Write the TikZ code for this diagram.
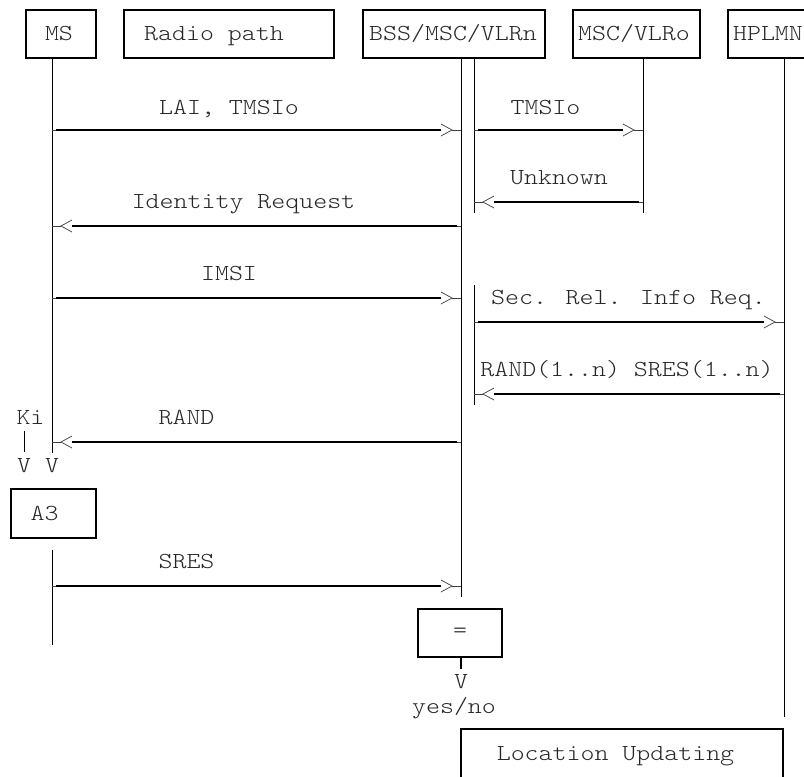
\documentclass[tikz,border=0pt]{standalone}
\usepackage{fontspec}
\newfontfamily\courf{lmmonolt10-regular.otf}[FakeStretch=1.16]
\usetikzlibrary{calc}
\tikzset{
  lbl/.style={font=\courf\fontsize{17.2pt}{20pt}\selectfont, text=black!85, inner sep=0pt, anchor=base},
  hl/.style={line width=0.98pt, black},
  vl/.style={line width=0.75pt, black},
  bx/.style={draw, line width=0.85pt, black, inner sep=0pt, outer sep=0pt},
  chev/.style={line width=0.55pt, black!75},
}
\newcommand\msgR[2]{%
  \draw[hl] ($(#1)+(4,0)$) -- ($(#2)+(-20,0)$);
  \draw[chev] ($(#2)+(-20,-6)$) -- ($(#2)+(-9,0)$) -- ($(#2)+(-20,6)$);
  \draw[chev] ($(#2)+(-9,0)$) -- (#2);
  \draw[chev] (#1) -- ($(#1)+(4,0)$);}
\newcommand\msgL[2]{%
  \draw[hl] ($(#1)+(-4,0)$) -- ($(#2)+(20,0)$);
  \draw[chev] ($(#2)+(20,-6)$) -- ($(#2)+(9,0)$) -- ($(#2)+(20,6)$);
  \draw[chev] ($(#2)+(9,0)$) -- (#2);
  \draw[chev] (#1) -- ($(#1)+(-4,0)$);}
\begin{document}
\begin{tikzpicture}[x=0.75pt,y=-0.75pt]
\useasboundingbox (0,0) rectangle (804,776);
\clip (0,0) rectangle (804,776);

% header boxes
\node[bx, minimum width=70*0.75pt, minimum height=48*0.75pt] (msbox) at (61,34) {};
\node[bx, minimum width=210*0.75pt, minimum height=48*0.75pt] (radiobox) at (229,34) {};
\node[bx, minimum width=182*0.75pt, minimum height=48*0.75pt] (bssbox) at (454,34) {};
\node[bx, minimum width=127*0.75pt, minimum height=48*0.75pt] (vlrobox) at (636.5,34) {};
\node[bx, minimum width=200*0.75pt, minimum height=48*0.75pt] (hplmnbox) at (828,34) {};
\node[lbl] (tms) at (59,40) {MS};
\node[lbl] (tradio) at (214,40) {Radio path};
\node[lbl] (tbss) at (453,40) {BSS/MSC/VLRn};
\node[lbl] (tvlro) at (634,40) {MSC/VLRo};
\node[lbl] (thplmn) at (768,40) {HPLMN};

% lifelines
\coordinate (msT) at (52,58);
\coordinate (msB) at (52,453);
\coordinate (ms2T) at (52,550);
\coordinate (ms2B) at (52,645);
\coordinate (bssT) at (461,58);
\coordinate (bssB) at (461,597);
\coordinate (bsbT) at (474,58);
\coordinate (bsbB) at (474,213);
\coordinate (bsb2T) at (474,285);
\coordinate (bsb2B) at (474,405);
\coordinate (vloT) at (643,58);
\coordinate (vloB) at (643,213);
\coordinate (hpT) at (784,58);
\coordinate (hpB) at (784,717);
\draw[vl] (msT) -- (msB);
\draw[vl] (ms2T) -- (ms2B);
\draw[vl] (bssT) -- (bssB);
\draw[vl] (bsbT) -- (bsbB);
\draw[vl] (bsb2T) -- (bsb2B);
\draw[vl] (vloT) -- (vloB);
\draw[vl] (hpT) -- (hpB);

% message end points
\coordinate (m1a) at (52,130);  \coordinate (m1b) at (461,130);
\coordinate (m2a) at (474,130); \coordinate (m2b) at (643,130);
\coordinate (m3a) at (643,202); \coordinate (m3b) at (474,202);
\coordinate (m4a) at (461,226); \coordinate (m4b) at (52,226);
\coordinate (m5a) at (52,298);  \coordinate (m5b) at (461,298);
\coordinate (m6a) at (474,322); \coordinate (m6b) at (784,322);
\coordinate (m7a) at (784,394); \coordinate (m7b) at (474,394);
\coordinate (m8a) at (461,442); \coordinate (m8b) at (52,442);
\coordinate (m9a) at (52,586);  \coordinate (m9b) at (461,586);

\msgR{m1a}{m1b}
\msgR{m2a}{m2b}
\msgL{m3a}{m3b}
\msgL{m4a}{m4b}
\msgR{m5a}{m5b}
\msgR{m6a}{m6b}
\msgL{m7a}{m7b}
\msgL{m8a}{m8b}
\msgR{m9a}{m9b}

\node[lbl] (l1) at (229,114) {LAI, TMSIo};
\node[lbl] (l2) at (545.5,114) {TMSIo};
\node[lbl] (l3) at (559,184) {Unknown};
\node[lbl] (l4) at (243.5,208) {Identity Request};
\node[lbl] (l5) at (229,280) {IMSI};
\node[lbl] (l6) at (628.5,304) {Sec. Rel. Info Req.};
\node[lbl] (l7) at (627,376) {RAND(1..n) SRES(1..n)};
\node[lbl] (l8) at (186.5,424) {RAND};
\node[lbl] (l9) at (186.5,568) {SRES};

% Ki and A3
\node[lbl] (ki) at (30.5,424) {Ki};
\coordinate (kiT) at (24,431);
\coordinate (kiB) at (24,452);
\draw[vl] (kiT) -- (kiB);
\node[lbl] (v1) at (24,472) {V};
\node[lbl] (v2) at (52,472) {V};
\node[bx, minimum width=85*0.75pt, minimum height=49*0.75pt] (a3box) at (53.5,513.5) {};
\node[lbl] (ta3) at (44.5,520) {A3};

% comparison
\node[bx, minimum width=84*0.75pt, minimum height=48*0.75pt] (eqbox) at (460,633) {};
\node[lbl, anchor=center] (teq) at (460,633) {=};
\coordinate (eqT) at (461,657);
\coordinate (eqB) at (461,669);
\draw[line width=1.1pt] (eqT) -- (eqB);
\node[lbl] (v3) at (461,688) {V};
\node[lbl] (yn) at (454,713) {yes/no};

% location updating
\node[bx, minimum width=322*0.75pt, minimum height=100*0.75pt] (lubox) at (622,779) {};
\node[lbl] (tlu) at (615.5,760) {Location Updating};
\end{tikzpicture}
\end{document}
